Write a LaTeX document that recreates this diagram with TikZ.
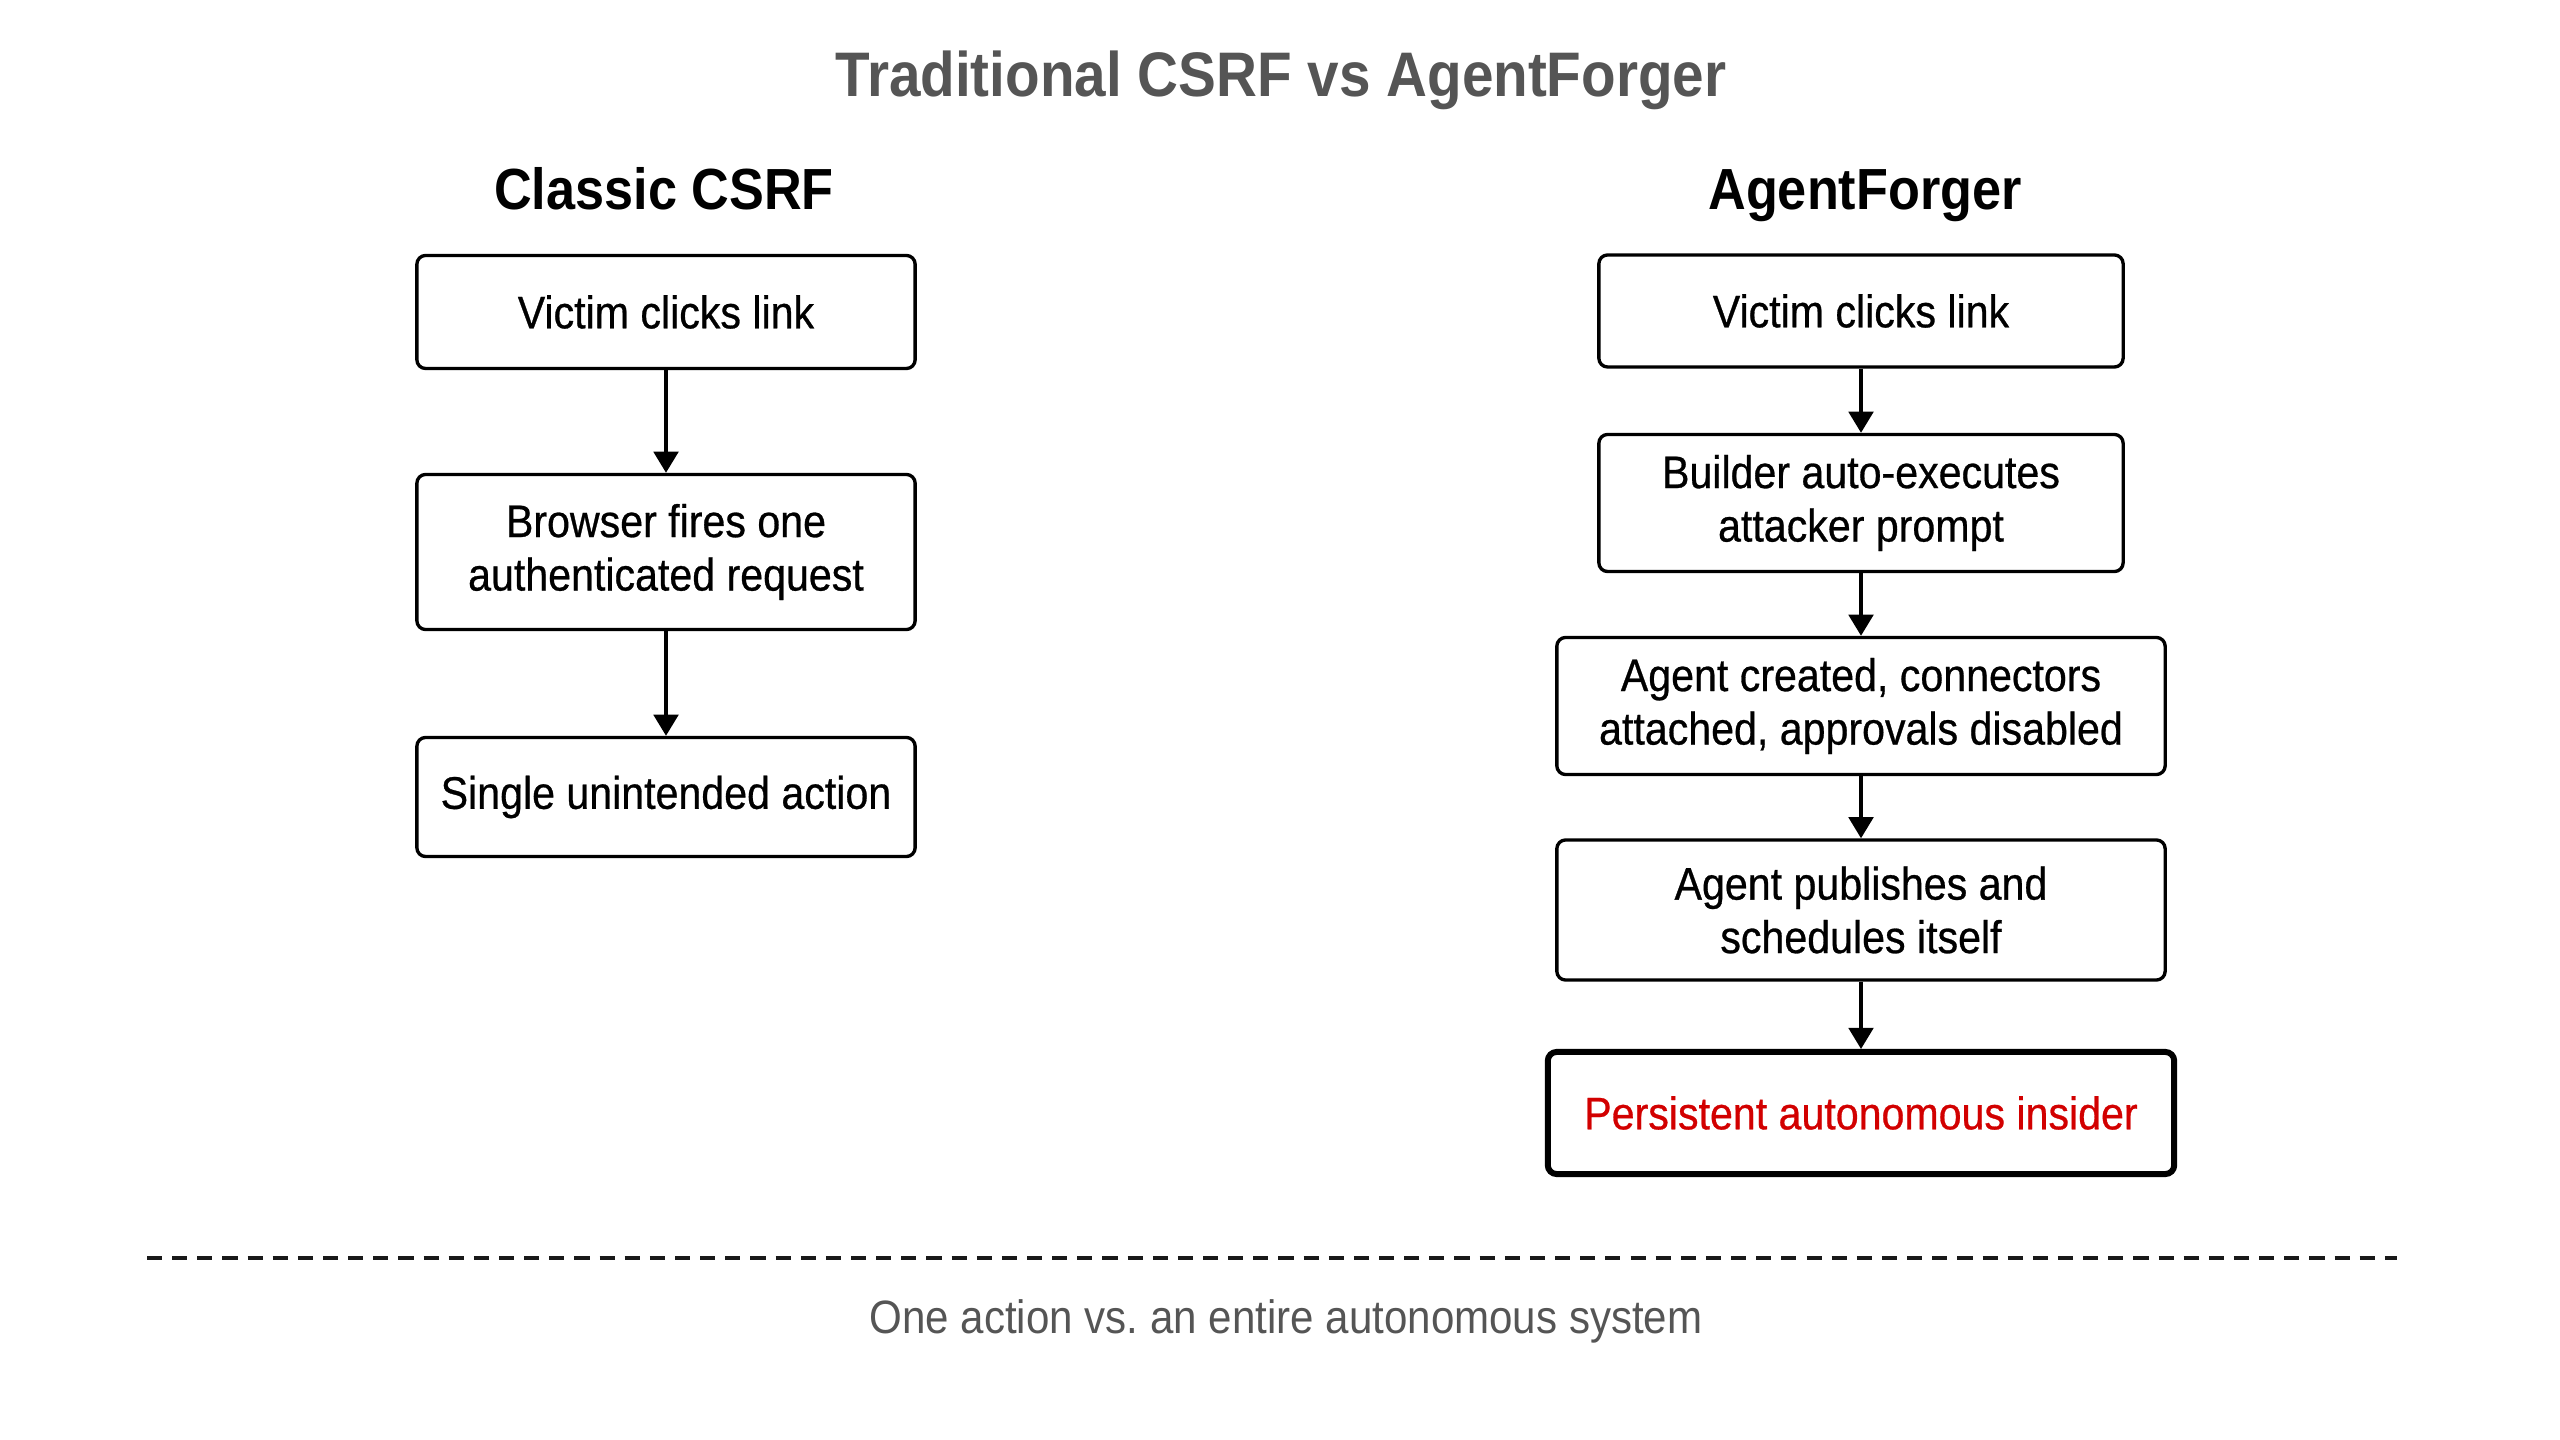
\documentclass[tikz,border=0pt]{standalone}
\usepackage{fontspec}
\setmainfont{Liberation Sans}[FakeStretch=0.9]
\newfontfamily\boxfont{Liberation Sans}[FakeStretch=0.9,FakeBold=0.6]
\usetikzlibrary{arrows.meta}

\definecolor{capgray}{RGB}{85,85,85}
\definecolor{alertred}{RGB}{210,0,0}

\begin{document}
\begin{tikzpicture}[x=0.01cm,y=-0.01cm,>={Triangle[width=7pt,length=6pt]},
 cb/.style={draw,line width=0.95pt,rounded corners=2.5pt,minimum width=4.98cm,align=center,inner sep=2pt,font=\boxfont\fontsize{13}{15.2}\selectfont},
 ab/.style={cb,minimum width=5.24cm},
 wb/.style={cb,minimum width=6.08cm},
 ib/.style={cb,line width=1.7pt,minimum width=6.26cm,text=alertred},
 hd/.style={anchor=base,font=\fontsize{16.5}{20}\selectfont\bfseries}]
\useasboundingbox (0,0) rectangle (2560,1440);
\node[anchor=base,text=capgray,font=\fontsize{17.9}{20}\selectfont\bfseries] (title) at (1281,97) {Traditional CSRF vs AgentForger};
\node[hd] (hl) at (664,210) {Classic CSRF};
\node[hd] (hr) at (1865,210) {AgentForger};
% classic column
\node[cb,minimum height=1.13cm] (l1) at (666,312) {Victim clicks link};
\node[cb,minimum height=1.55cm] (l2) at (666,552) {Browser fires one\\authenticated request};
\node[cb,minimum height=1.19cm] (l3) at (666,797) {Single unintended action};
% agentforger column
\node[ab,minimum height=1.12cm] (r1) at (1861,311) {Victim clicks link};
\node[ab,minimum height=1.37cm] (r2) at (1861,503) {Builder auto-executes\\attacker prompt};
\node[wb,minimum height=1.37cm] (r3) at (1861,706) {Agent created, connectors\\attached, approvals disabled};
\node[wb,minimum height=1.40cm] (r4) at (1861,910) {Agent publishes and\\schedules itself};
\node[ib,minimum height=1.22cm] (r5) at (1861,1113) {Persistent autonomous insider};
\foreach \a/\b in {l1/l2,l2/l3,r1/r2,r2/r3,r3/r4,r4/r5} \draw[->,line width=0.95pt] (\a) -- (\b);
% separator and caption
\coordinate (sl) at (147,1258);
\coordinate (sr) at (2397,1258);
\draw[line width=1.1pt,black!90,dash pattern=on 4.3pt off 2.85pt] (sl) -- (sr);
\node[anchor=base,text=capgray,font=\fontsize{13.3}{16}\selectfont] (foot) at (1286,1333) {One action vs.\ an entire autonomous system};
\end{tikzpicture}
\end{document}
